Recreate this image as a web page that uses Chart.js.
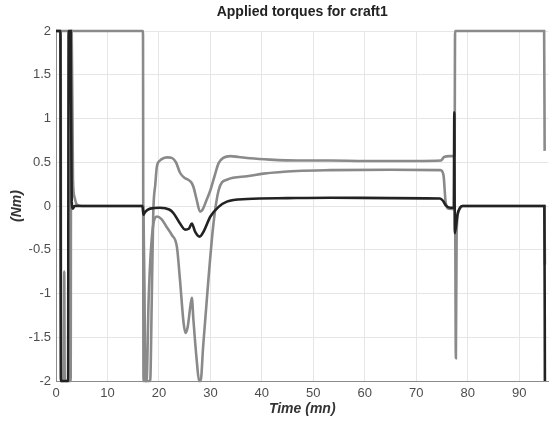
<!DOCTYPE html>
<html>
<head>
<meta charset="utf-8">
<script src="https://cdn.jsdelivr.net/npm/chart.js@4.4.1/dist/chart.umd.min.js"></script>
<style>
    html, body { margin: 0; padding: 0; background: #fff; }
    #wrap { width: 555px; height: 421px; }
</style>
</head>
<body>
<div id="wrap"><canvas id="torques"></canvas></div>
<script>
// Tick values
const xTickValues = [0, 10, 20, 30, 40, 50, 60, 70, 80, 90];
const yTickValues = [-2, -1.5, -1, -0.5, 0, 0.5, 1, 1.5, 2];

// Torque 1 (black)
const blackT = [0, 0.85, 0.95, 2.35, 2.45, 2.85, 3.05, 3.3, 3.6, 16.8, 17.0, 17.3, 18.3, 20.2, 22.0, 22.8, 24.1, 25.1, 25.8, 26.4, 27.0, 27.9, 28.7, 30.0, 31.6, 33.2, 37.1, 45, 53.3, 65, 74.6, 75.2, 75.7, 76.6, 77.3, 77.4, 77.5, 78.0, 78.5, 79.0, 94.9, 95.0];
const blackY = [2, 2, -2, -2, 2, 2, 0.05, -0.03, 0, 0, -0.1, -0.07, -0.03, -0.02, -0.04, -0.08, -0.2, -0.27, -0.26, -0.2, -0.29, -0.35, -0.29, -0.12, -0.01, 0.05, 0.08, 0.09, 0.095, 0.09, 0.085, 0.06, 0.01, -0.02, -0.02, 1.07, -0.31, -0.1, -0.02, 0, 0, -2];

// Torque 2 (gray, settles ~0.52)
const grayAT = [0, 16.9, 17.0, 18.3, 18.6, 18.9, 19.3, 19.6, 20.2, 21.0, 21.7, 22.5, 23.3, 24.1, 25.0, 25.7, 26.4, 26.8, 27.3, 28.0, 28.5, 29.2, 30.0, 30.8, 31.6, 32.5, 33.9, 35.5, 37.7, 41.6, 47, 53.3, 60, 70, 74.8, 75.4, 76.5, 77.45, 77.55, 94.85, 94.95];
const grayAY = [2, 2, -2, -2, -1.1, -0.08, 0.25, 0.45, 0.52, 0.55, 0.556, 0.55, 0.5, 0.38, 0.32, 0.3, 0.26, 0.2, 0.08, -0.065, -0.04, 0.06, 0.18, 0.34, 0.49, 0.55, 0.57, 0.56, 0.545, 0.53, 0.52, 0.52, 0.515, 0.515, 0.52, 0.56, 0.57, 0.57, 2, 2, 0.63];

// Torque 3 (gray, settles ~0.41)
const grayCT = [0, 0.9, 1.0, 1.5, 1.6, 1.7, 2.85, 2.95, 3.05, 3.3, 3.6, 4.0, 5.0, 16.9, 17.0, 17.2, 17.35, 17.6, 18.0, 18.7, 19.6, 20.5, 21.5, 22.5, 23.5, 24.1, 24.8, 25.2, 25.6, 26.1, 26.4, 26.7, 27.4, 27.8, 28.1, 28.6, 29.6, 30.6, 31.6, 33.2, 37.1, 40.3, 46.8, 53.3, 65, 74.7, 75.3, 75.7, 76.2, 77.55, 77.7, 77.85, 78.3, 79, 94.9, 95.0];
const grayCY = [2, 2, -2, -2, -0.75, -2, -2, 2, 2, 0.3, 0.1, 0.02, 0, 0, -0.08, -1, -2, -2, -1.07, -0.31, -0.12, -0.15, -0.24, -0.33, -0.47, -0.85, -1.34, -1.45, -1.38, -1.15, -1.05, -1.3, -1.8, -2, -2, -1.6, -0.85, -0.2, 0.18, 0.3, 0.34, 0.37, 0.4, 0.41, 0.415, 0.41, 0.35, 0.05, -0.03, -0.04, -1.74, -0.3, -0.05, 0, 0, -0.67];

function toPoints(t, v) {
    return t.map((x, i) => ({ x: x, y: v[i] }));
}

function lineSet(label, t, v, color) {
    return {
        label: label,
        data: toPoints(t, v),
        borderColor: color,
        backgroundColor: 'transparent',
        borderWidth: 2.6,
        pointRadius: 0,
        cubicInterpolationMode: 'monotone',
        clip: 5
    };
}

const font = 'Arial, "Liberation Sans", Helvetica, sans-serif';

const ctx = document.getElementById('torques').getContext('2d');
new Chart(ctx, {
    type: 'line',
    data: {
        datasets: [
            lineSet('T1', blackT, blackY, '#222222'),
            lineSet('T2', grayAT, grayAY, '#8a8a8a'),
            lineSet('T3', grayCT, grayCY, '#8a8a8a')
        ]
    },
    options: {
        responsive: true,
        maintainAspectRatio: false,
        animation: false,
        layout: { padding: { left: 0, right: 6.5, top: 0, bottom: 0 } },
        plugins: {
            legend: { display: false },
            tooltip: { enabled: false },
            title: {
                display: true,
                fullSize: false,
                text: 'Applied torques for craft1',
                color: '#222',
                font: { family: font, size: 14, weight: 'bold' },
                padding: { top: 3.6, bottom: 10.6 }
            }
        },
        scales: {
            x: {
                type: 'linear',
                min: 0,
                max: 95.7,
                afterBuildTicks: scale => { scale.ticks = xTickValues.map(v => ({ value: v })); },
                afterFit: scale => { scale.height = 40; },
                ticks: {
                    color: '#4d4d4d',
                    font: { family: font, size: 13 },
                    padding: 5,
                    maxRotation: 0,
                    callback: v => String(v)
                },
                grid: { color: '#e6e6e6', drawTicks: false },
                border: { display: true, color: '#8c8c8c', width: 1 },
                title: {
                    display: true,
                    text: 'Time (mn)',
                    color: '#333',
                    font: { family: font, size: 14, weight: 'bold', style: 'italic' },
                    padding: { top: 0, bottom: 3.6 }
                }
            },
            y: {
                min: -2,
                max: 2,
                afterBuildTicks: scale => { scale.ticks = yTickValues.map(v => ({ value: v })); },
                afterFit: scale => { scale.width = 56; },
                ticks: {
                    color: '#4d4d4d',
                    font: { family: font, size: 13 },
                    padding: 5,
                    callback: v => String(v)
                },
                grid: { color: '#e6e6e6', drawTicks: false },
                border: { display: true, color: '#8c8c8c', width: 1 },
                title: {
                    display: true,
                    text: '(Nm)',
                    color: '#333',
                    font: { family: font, size: 14, weight: 'bold', style: 'italic' },
                    padding: { top: 8.6, bottom: 0 }
                }
            }
        }
    }
});
</script>
</body>
</html>
